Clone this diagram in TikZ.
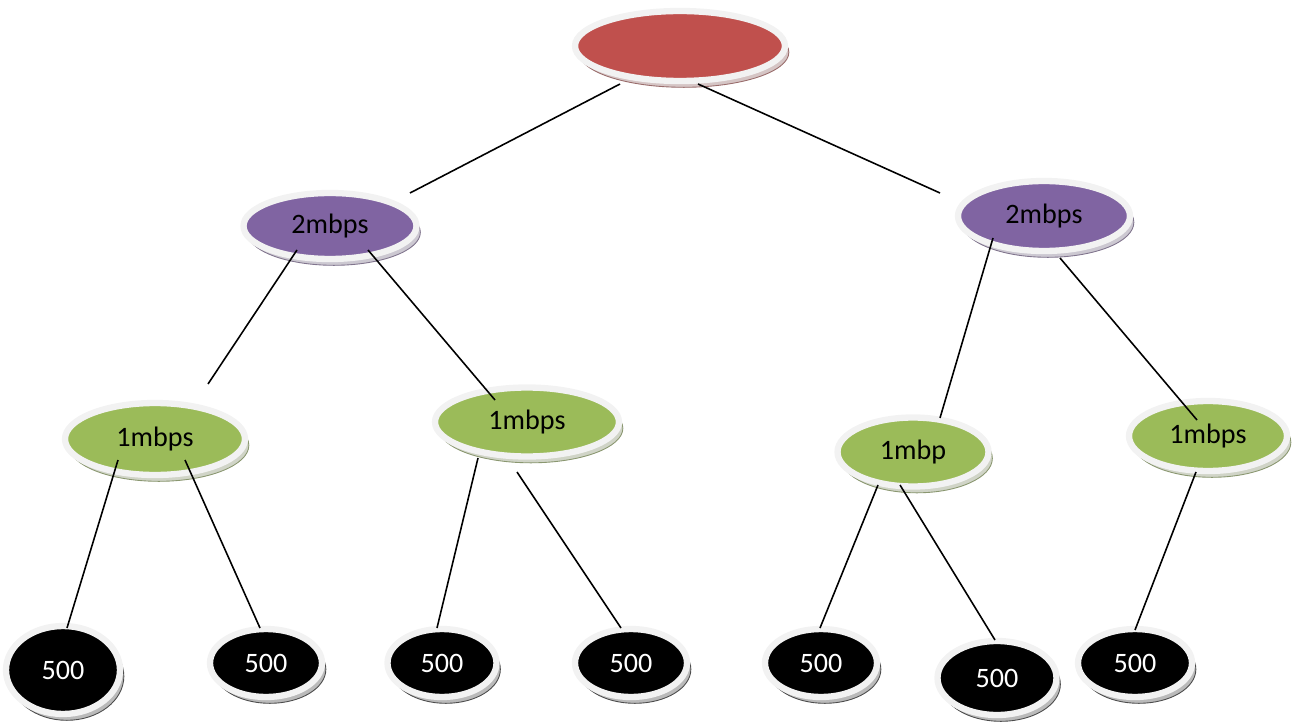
\documentclass[tikz,border=0pt]{standalone}
\usepackage{fontspec}
\setmainfont{Carlito}
\usetikzlibrary{shapes.geometric,shadows,calc}
\definecolor{rootred}{HTML}{C0504D}
\definecolor{midpurple}{HTML}{8064A2}
\definecolor{leafgreen}{HTML}{9BBB59}
\definecolor{ringgray}{HTML}{F2F2F2}
\tikzset{
  disk/.style={ellipse, inner sep=0pt, fill=#1, draw=ringgray, line width=3.6pt,
    font=\fontsize{16}{18}\selectfont,
    general shadow={shadow xshift=2.2pt, shadow yshift=-3.6pt,
      fill=#1!35!gray!40!white, draw=#1!40!gray, line width=0.5pt}},
  blackdisk/.style={disk=black, text=white},
  link/.style={draw=black, line width=0.9pt}
}
\begin{document}
\begin{tikzpicture}[x=0.02cm, y=-0.02cm]
\useasboundingbox (0,0) rectangle (1298,726);

% tree nodes
\node[disk=rootred, minimum width=4.2cm, minimum height=1.4cm] (root) at (680,46) {};
\node[disk=midpurple, minimum width=3.46cm, minimum height=1.32cm] (ml) at (330,226) {2mbps\hspace{8pt}};
\node[disk=midpurple, minimum width=3.44cm, minimum height=1.4cm] (mr) at (1044,216) {2mbps\hspace{8pt}};
\node[disk=leafgreen, minimum width=3.6cm, minimum height=1.44cm] (la) at (155,439) {1mbps\hspace{8pt}};
\node[disk=leafgreen, minimum width=3.68cm, minimum height=1.38cm] (lb) at (527,422) {1mbps\hspace{8pt}};
\node[disk=leafgreen, minimum width=3.02cm, minimum height=1.38cm] (ra) at (913,452) {1mbp\hspace{4pt}};
\node[disk=leafgreen, minimum width=3.16cm, minimum height=1.4cm] (rb) at (1208,436) {1mbps\hspace{2pt}};

\node[blackdisk, minimum width=2.28cm, minimum height=1.76cm] (b1) at (63,670) {500\hspace{2pt}};
\node[blackdisk, minimum width=2.24cm, minimum height=1.36cm] (b2) at (266,663) {500\hspace{4pt}};
\node[blackdisk, minimum width=2.18cm, minimum height=1.36cm] (b3) at (442,663) {500\hspace{2pt}};
\node[blackdisk, minimum width=2.24cm, minimum height=1.36cm] (b4) at (631,663) {500};
\node[blackdisk, minimum width=2.24cm, minimum height=1.36cm] (b5) at (821,663) {500\hspace{4pt}};
\node[blackdisk, minimum width=2.38cm, minimum height=1.48cm] (b6) at (997,678) {500\hspace{4pt}};
\node[blackdisk, minimum width=2.28cm, minimum height=1.36cm] (b7) at (1135,663) {500\hspace{2pt}};

% connectors, offset from the node centres
\draw[link] ($(root)+(-60,38)$) -- ($(ml)+(80,-33)$);
\draw[link] ($(root)+(18,38)$)  -- ($(mr)+(-104,-23)$);
\draw[link] ($(ml)+(-33,24)$)   -- ($(la)+(53,-55)$);
\draw[link] ($(ml)+(38,24)$)    -- ($(lb)+(-32,-22)$);
\draw[link] ($(mr)+(-51,22)$)   -- ($(ra)+(27,-34)$);
\draw[link] ($(mr)+(16,42)$)    -- ($(rb)+(-11,-16)$);
\draw[link] ($(la)+(-37,21)$)   -- ($(b1)+(4,-42)$);
\draw[link] ($(la)+(30,21)$)    -- ($(b2)+(-6,-35)$);
\draw[link] ($(lb)+(-49,36)$)   -- ($(b3)+(-5,-35)$);
\draw[link] ($(lb)+(-10,50)$)   -- ($(b4)+(-10,-35)$);
\draw[link] ($(ra)+(-35,33)$)   -- ($(b5)+(-1,-35)$);
\draw[link] ($(ra)+(-13,33)$)   -- ($(b6)+(-2,-38)$);
\draw[link] ($(rb)+(-12,36)$)   -- ($(b7)+(0,-33)$);
\end{tikzpicture}
\end{document}
